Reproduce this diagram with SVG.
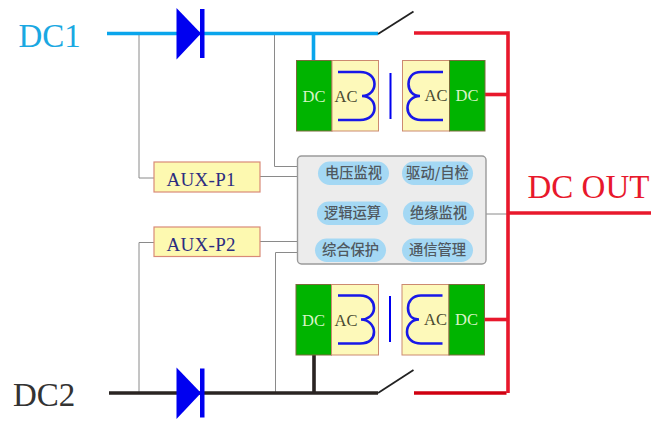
<svg xmlns="http://www.w3.org/2000/svg" width="651" height="421" viewBox="0 0 651 421">
<style>
text{font-family:"Liberation Serif","Times New Roman",serif}
.thin{fill:none;stroke:#8a8a8a;stroke-width:1}
.bus{fill:none;stroke-width:3.6}
.sw{fill:none;stroke:#222;stroke-width:1.8}
.red{fill:none;stroke:#e8182c;stroke-width:3.6}
.big{font-size:33px}
.aux{fill:#fdf9b0;stroke:#d98a78;stroke-width:1.2}
.auxt{font-size:19px;fill:#2c2c80;letter-spacing:.3px}
.g{fill:#00b400;stroke:#7a6a3a;stroke-width:1}
.y{fill:#fdf9ba;stroke:#cc8a70;stroke-width:1}
.dc{font-size:16.5px;fill:#d8f4c8;text-anchor:middle}
.ac{font-size:16.5px;fill:#4a4a30;text-anchor:middle}
.coil{fill:none;stroke:#1818e8;stroke-width:2.6}
.pill{fill:#a4d8f4}
.pt{font-family:"Noto Sans CJK SC","Noto Sans",sans-serif;font-size:14.300px;font-weight:500;fill:#505860;text-anchor:middle}
.dio{fill:#0000f0}
</style>
<g id="connectors">
<path class="thin" d="M139 33V178H154"/>
<path class="thin" d="M274.500 33V166.500H297.500"/>
<path class="thin" d="M260 176.500H297.500"/>
<path class="thin" d="M139 393V242.500H154"/>
<path class="thin" d="M275.500 393V252.500H297.500"/>
<path class="thin" d="M260 241.500H297.500"/>
<path class="thin" d="M486 214H508"/>
<path class="bus" stroke="#0aa5ec" d="M107 33.500H378M313.500 33.500V60.500"/>
<path class="bus" stroke="#2a2422" d="M109 393H378M314 393V355"/>
<path class="sw" d="M378 34L413.500 11.500"/>
<path class="sw" d="M378 393L413.500 370"/>
<path class="red" d="M414 33H508V393"/>
<path class="red" d="M485 94.500H508"/>
<path class="red" d="M484.500 319.500H508"/>
<path class="red" d="M508 213H651"/>
<path fill="none" stroke="#d00010" stroke-width="3.600" d="M414 393H506.500"/>
</g>
<g id="diode-1"><path class="dio" d="M176.500 8V59.500L201 33.500Z"/><rect class="dio" x="200" y="9" width="4.500" height="49"/></g>
<g id="diode-2"><path class="dio" d="M176.500 367.500V419L201 393Z"/><rect class="dio" x="200" y="368.500" width="4.500" height="49"/></g>
<g id="label-dc1"><text class="big" x="18.500" y="46.700" fill="#1aa8e2">DC1</text></g>
<g id="label-dc2"><text class="big" x="13" y="406" fill="#333">DC2</text></g>
<g id="label-dcout"><text class="big" x="527.500" y="198" fill="#e8182c">DC OUT</text></g>
<g id="aux-p1"><rect class="aux" x="154" y="162" width="106" height="30"/><text class="auxt" x="166.500" y="186">AUX-P1</text></g>
<g id="aux-p2"><rect class="aux" x="154" y="227" width="106" height="29.500"/><text class="auxt" x="166.500" y="250.500">AUX-P2</text></g>
<g id="conv-top-left">
<rect class="g" x="296.500" y="60.500" width="35.500" height="70.500"/><rect class="y" x="332" y="60.500" width="46.500" height="70.500"/>
<text class="dc" x="314" y="102">DC</text><text class="ac" x="346" y="102">AC</text>
<path class="coil" d="M338 72H360C370 72 374.500 78 374.500 84C374.500 91 369 96 362 96C369 96 374.500 101 374.500 108C374.500 114 370 120 360 120H338"/>
</g>
<rect class="dio" x="389.500" y="73" width="2" height="46"/>
<g id="conv-top-right">
<rect class="y" x="402.500" y="60.500" width="47" height="70.500"/><rect class="g" x="449.500" y="60.500" width="35.500" height="70.500"/>
<text class="ac" x="436" y="101">AC</text><text class="dc" x="467" y="101">DC</text>
<path class="coil" d="M443 72H421C412 72 408.500 78 408.500 84C408.500 91 413 96 420 96C413 96 407.500 101 407.500 108C407.500 114 412 120 421 120H443"/>
</g>
<g id="conv-bottom-left">
<rect class="g" x="296" y="284.500" width="35.500" height="70.500"/><rect class="y" x="331.500" y="284.500" width="47" height="70.500"/>
<text class="dc" x="313.500" y="326">DC</text><text class="ac" x="346" y="326">AC</text>
<path class="coil" d="M338 295.500H360C370 295.500 374 302 374 308C374 315 368 319.500 361 319.500C368 319.500 374 325 374 332C374 338 370 343.500 360 343.500H338"/>
</g>
<rect class="dio" x="389" y="296" width="2" height="46"/>
<g id="conv-bottom-right">
<rect class="y" x="402" y="284.500" width="47" height="70.500"/><rect class="g" x="449" y="284.500" width="35.500" height="70.500"/>
<text class="ac" x="435.500" y="325">AC</text><text class="dc" x="466.500" y="325">DC</text>
<path class="coil" d="M442.500 295.500H421C412 295.500 408 302 408 308C408 315 412 319.500 419 319.500C412 319.500 407 325 407 332C407 338 412 343.500 421 343.500H442.500"/>
</g>
<g id="control-panel">
<rect x="297.500" y="156" width="188.500" height="108" rx="4" fill="#ececec" stroke="#9a9a9a" stroke-width="1.400"/>
<rect class="pill" x="318" y="161.500" width="71" height="23.500" rx="11.700"/><text class="pt" x="353.500" y="178">电压监视</text>
<rect class="pill" x="402" y="161.500" width="71" height="23.500" rx="11.700"/><text class="pt" x="437.500" y="178">驱动/自检</text>
<rect class="pill" x="317" y="201.500" width="71" height="23.500" rx="11.700"/><text class="pt" x="352.500" y="218">逻辑运算</text>
<rect class="pill" x="403" y="201.500" width="71" height="23.500" rx="11.700"/><text class="pt" x="438.500" y="218">绝缘监视</text>
<rect class="pill" x="315" y="238.500" width="71" height="23.500" rx="11.700"/><text class="pt" x="350.500" y="255">综合保护</text>
<rect class="pill" x="402" y="238.500" width="71" height="23.500" rx="11.700"/><text class="pt" x="437.500" y="255">通信管理</text>
</g>
</svg>
